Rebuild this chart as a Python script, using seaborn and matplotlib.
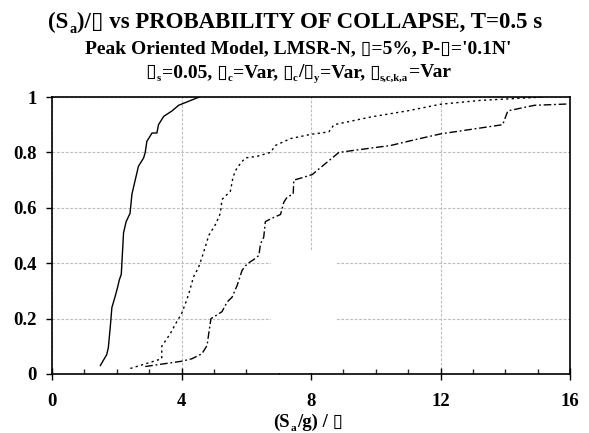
import matplotlib
matplotlib.use("Agg")
import matplotlib.pyplot as plt
import seaborn as sns
import pandas as pd
from matplotlib.patches import Rectangle
from matplotlib.transforms import IdentityTransform

# ---- data ----
solid_x = [1.49, 1.69, 1.74, 1.80, 1.85, 1.95, 2.02, 2.08, 2.14, 2.21, 2.29, 2.41, 2.47,
           2.67, 2.83, 2.88, 2.93, 3.09, 3.24, 3.29, 3.45, 3.71, 3.91, 4.55]
solid_y = [0.03, 0.07, 0.095, 0.17, 0.24, 0.28, 0.31, 0.34, 0.36, 0.51, 0.55, 0.58, 0.65,
           0.75, 0.78, 0.80, 0.84, 0.87, 0.87, 0.90, 0.93, 0.95, 0.97, 1.0]

dotted_x = [2.42, 3.39, 3.39, 3.65, 3.86, 4.0, 4.17, 4.25, 4.37, 4.53, 4.63, 4.79, 4.84,
            5.05, 5.20, 5.25, 5.51, 5.59, 5.67, 5.82, 5.97, 6.34, 6.75, 6.90, 7.37, 7.99,
            8.55, 8.71, 8.92, 9.85, 10.98, 12.01, 13.25, 15.2]
dotted_y = [0.02, 0.055, 0.10, 0.145, 0.19, 0.217, 0.27, 0.30, 0.35, 0.386, 0.42, 0.48, 0.50,
            0.54, 0.58, 0.63, 0.66, 0.71, 0.735, 0.76, 0.78, 0.786, 0.80, 0.825, 0.85, 0.865,
            0.874, 0.90, 0.905, 0.928, 0.95, 0.974, 0.988, 1.0]

dashdot_x = [2.88, 4.0, 4.32, 4.63, 4.79, 4.84, 4.91, 5.05, 5.25, 5.41, 5.56, 5.72, 5.87,
             6.03, 6.23, 6.39, 6.44, 6.54, 6.59, 6.75, 7.06, 7.16, 7.26, 7.45, 7.47, 7.68,
             8.04, 8.19, 8.50, 8.76, 8.86, 10.46, 11.29, 12.01, 13.92, 14.08, 14.9, 15.98]
dashdot_y = [0.027, 0.046, 0.055, 0.073, 0.103, 0.145, 0.20, 0.21, 0.225, 0.26, 0.277, 0.32,
             0.374, 0.398, 0.413, 0.428, 0.47, 0.494, 0.55, 0.56, 0.576, 0.62, 0.638, 0.65,
             0.70, 0.707, 0.72, 0.735, 0.765, 0.79, 0.80, 0.825, 0.848, 0.867, 0.90, 0.95,
             0.97, 0.975]

x_ticks = [0, 4, 8, 12, 16]
x_ticklabels = ["0", "4", "8", "12", "16"]
y_ticks = [0, 0.2, 0.4, 0.6, 0.8, 1.0]
y_ticklabels = ["0", "0.2", "0.4", "0.6", "0.8", "1"]

# text pieces: (string, is_subscript)
title1 = [("(S", False), ("a", True), (")/▯ vs PROBABILITY OF COLLAPSE, T=0.5 s", False)]
title2 = [("Peak Oriented Model, LMSR-N, ▯=5%, P-▯='0.1N'", False)]
title3 = [("▯", False), ("s", True), ("=0.05, ▯", False), ("c", True), ("=Var, ▯", False),
          ("c", True), ("/▯", False), ("y", True), ("=Var, ▯", False), ("s,c,k,a", True),
          ("=Var", False)]
xlabel = [("(S", False), ("a", True), ("/g) / ▯", False)]

# ---- style ----
sns.set_theme(style="white")
plt.rcParams["font.family"] = ["Liberation Serif", "DejaVu Sans"]
plt.rcParams["font.weight"] = "bold"

W, H = 589, 433
fig = plt.figure(figsize=(W / 100, H / 100), dpi=100)
fig.patch.set_facecolor("white")
ax = fig.add_axes([52 / W, 1 - 374 / H, (570 - 52) / W, (374 - 97) / H])
ax.set_facecolor("white")

df_s = pd.DataFrame({"x": solid_x, "y": solid_y})
df_d = pd.DataFrame({"x": dotted_x, "y": dotted_y})
df_dd = pd.DataFrame({"x": dashdot_x, "y": dashdot_y})

sns.lineplot(data=df_s, x="x", y="y", ax=ax, estimator=None, sort=False,
             color="black", linewidth=1.0, linestyle="-", zorder=4)
sns.lineplot(data=df_d, x="x", y="y", ax=ax, estimator=None, sort=False,
             color="black", linewidth=1.0, linestyle=(0, (1.6, 2.4)), zorder=4)
sns.lineplot(data=df_dd, x="x", y="y", ax=ax, estimator=None, sort=False,
             color="black", linewidth=1.0, linestyle=(0, (5.5, 2.0, 1.3, 2.0)), zorder=4)

ax.set_xlim(0, 16)
ax.set_ylim(0, 1)
ax.set_xticks(x_ticks)
ax.set_xticklabels(x_ticklabels)
ax.set_xticks(range(0, 17), minor=True)
ax.set_yticks(y_ticks)
ax.set_yticklabels(y_ticklabels)

ax.grid(True, which="major", color="#bdbdbd", linestyle=(0, (2.5, 1.5)), linewidth=0.8, zorder=1)
ax.set_axisbelow(True)
# blank patch present in the reference (hidden legend area)
ax.add_patch(Rectangle((6.75, 0.002), 2.05, 0.443, facecolor="white", edgecolor="none", zorder=2))

for sp in ax.spines.values():
    sp.set_visible(True)
    sp.set_color("black")
    sp.set_linewidth(1.2)
    sp.set_zorder(5)

ax.tick_params(axis="x", which="major", direction="inout", length=8, width=1.0,
               labelsize=13.5, pad=10, colors="black", bottom=True)
ax.tick_params(axis="x", which="minor", direction="in", length=3.5, width=1.0,
               bottom=True)
ax.tick_params(axis="y", which="major", direction="out", length=4, width=1.0,
               labelsize=13.5, pad=7, colors="black", left=True)
for lab in ax.get_xticklabels() + ax.get_yticklabels():
    lab.set_fontweight("bold")
ax.set_xlabel("")
ax.set_ylabel("")

renderer = fig.canvas.get_renderer()


def rich_text(pieces, cx_px, base_px, size, sub_scale=0.62, sub_drop=0.22, gap=1.0):
    """Place text pieces (with simple subscripts) centred at cx_px, baseline base_px (from top)."""
    items = []
    prev = ""
    for s, is_sub in pieces:
        fs = size * sub_scale if is_sub else size
        t = fig.text(0, 0, s, fontsize=fs, fontweight="bold", ha="left", va="baseline",
                     transform=IdentityTransform(), color="black")
        w = t.get_window_extent(renderer).width
        # slightly tighten a subscript that follows a mixed-font piece ending in the box glyph
        kern = -1.0 if (is_sub and len(prev) > 1 and prev.endswith("▯")) else gap
        items.append((t, w, is_sub, kern))
        prev = s
    total = sum(w for _, w, _, _ in items) + sum(k for _, _, _, k in items[1:])
    x = cx_px - total / 2
    y0 = H - base_px
    for i, (t, w, is_sub, kern) in enumerate(items):
        if i > 0:
            x += kern
        drop = size * 100 / 72 * sub_drop if is_sub else 0
        t.set_position((x, y0 - drop))
        x += w


rich_text(title1, 295, 28, 16.5)
rich_text(title2, 298, 53.5, 14)
rich_text(title3, 298, 77, 14, sub_scale=0.55, sub_drop=0.2)
rich_text(xlabel, 308, 427, 13.5, sub_scale=0.6, sub_drop=0.2)

fig.savefig("out.png", dpi=100, facecolor="white")
